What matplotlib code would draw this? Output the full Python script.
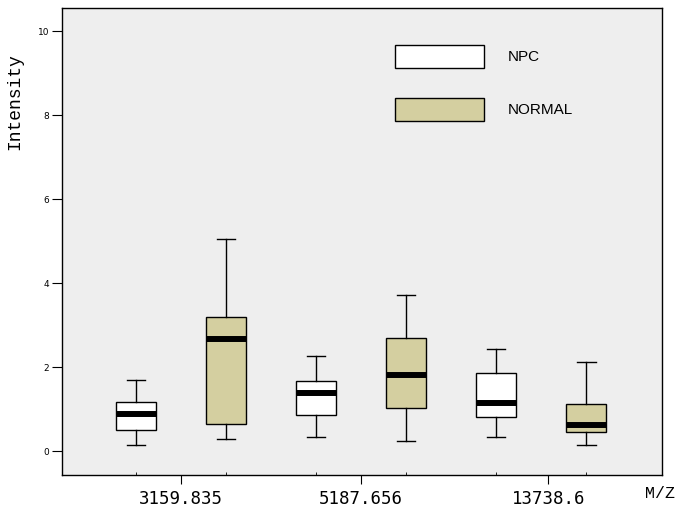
import matplotlib
matplotlib.use("Agg")
import matplotlib.pyplot as plt
from matplotlib.patches import Rectangle

# ------------------------------------------------------------
# Box statistics (Intensity per peak)
# ------------------------------------------------------------
peaks = ["3159.835", "5187.656", "13738.6"]
groups = ["NPC", "NORMAL"]

# order: 3159.835 NPC, 3159.835 NORMAL, 5187.656 NPC, ...
whislo = [0.14, 0.28, 0.33, 0.23, 0.33, 0.14]
q1     = [0.49, 0.64, 0.87, 1.02, 0.80, 0.45]
med    = [0.89, 2.67, 1.38, 1.82, 1.15, 0.62]
q3     = [1.16, 3.18, 1.66, 2.68, 1.87, 1.11]
whishi = [1.70, 5.06, 2.27, 3.71, 2.44, 2.11]

colors = ["white", "#d4cfa0"]   # NPC, NORMAL
bg = "#eeeeee"

stats = []
for i in range(len(med)):
    stats.append({"whislo": whislo[i], "q1": q1[i], "med": med[i],
                  "q3": q3[i], "whishi": whishi[i], "fliers": []})

positions = list(range(1, len(med) + 1))

fig = plt.figure(figsize=(6.99, 5.16), dpi=100)
ax = fig.add_axes([0.0883, 0.0795, 0.8583, 0.905])
ax.set_facecolor(bg)

bp = ax.bxp(stats, positions=positions, widths=0.444, patch_artist=True,
            capwidths=0.21, showfliers=False,
            boxprops=dict(linewidth=1.0, edgecolor="black"),
            whiskerprops=dict(linewidth=1.0, color="black"),
            capprops=dict(linewidth=1.0, color="black"),
            medianprops=dict(linewidth=4.3, color="black", solid_capstyle="butt"))
for i, box in enumerate(bp["boxes"]):
    box.set_facecolor(colors[i % 2])

ax.set_xlim(0.175, 6.84)
ax.set_ylim(-0.57, 10.55)

# y axis
ax.set_yticks([0, 2, 4, 6, 8, 10])
ax.tick_params(axis="y", direction="out", length=7, width=0.8, labelsize=6.5, pad=2)
ax.text(-0.078, 0.80, "Intensity", transform=ax.transAxes, rotation=90,
        ha="center", va="center", fontsize=13, family="Liberation Mono")

# x axis: major ticks between each pair, tiny minor ticks at the boxes
centres = [1.5, 3.5, 5.58]
ax.set_xticks(centres)
ax.set_xticklabels(peaks, family="DejaVu Sans Mono", fontsize=12.5)
ax.tick_params(axis="x", direction="out", length=6.5, width=0.8, pad=4)
ax.set_xticks(positions, minor=True)
ax.tick_params(axis="x", which="minor", direction="in", length=2, width=0.6)

for s in ax.spines.values():
    s.set_linewidth(1.0)

fig.text(0.944, 0.043, "M/Z", ha="center", va="center", fontsize=12,
         family="Liberation Mono")

# legend drawn as boxes with labels
leg_y = [0.8715, 0.758]
for i, name in enumerate(groups):
    ax.add_patch(Rectangle((0.5555, leg_y[i]), 0.1485, 0.0493, transform=ax.transAxes,
                           facecolor=colors[i], edgecolor="black", linewidth=1.0))
    ax.text(0.743, leg_y[i] + 0.0246, name, transform=ax.transAxes, ha="left",
            va="center", fontsize=11, family="Liberation Sans")

fig.savefig("out.png", dpi=100)
